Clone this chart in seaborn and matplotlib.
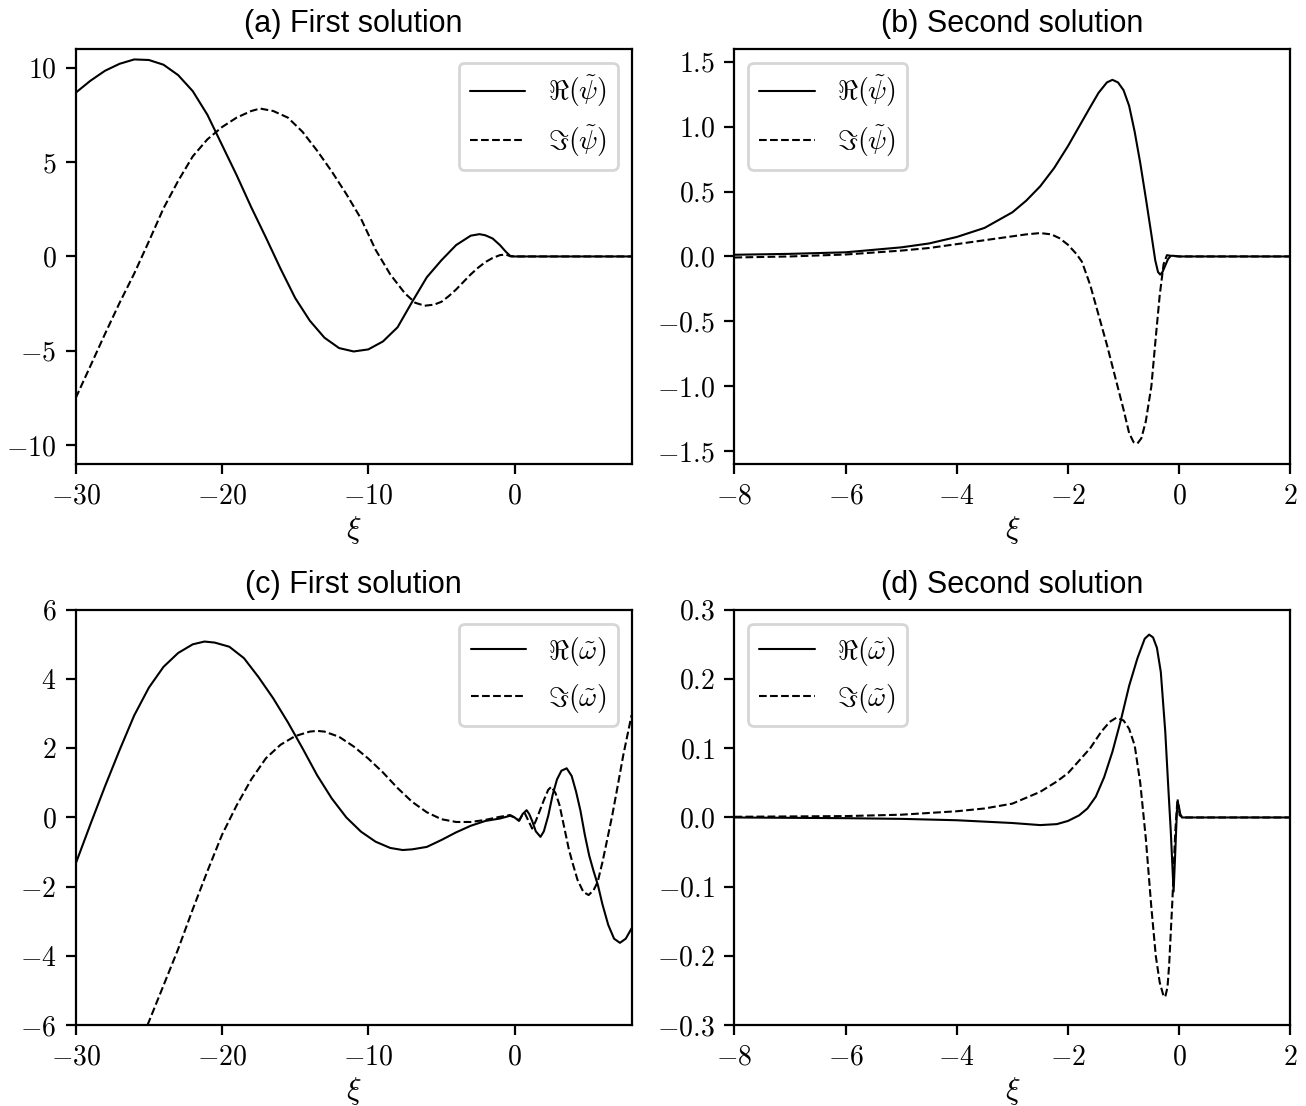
import numpy as np
import pandas as pd
import matplotlib
matplotlib.use("Agg")
import matplotlib.pyplot as plt
from matplotlib.ticker import FuncFormatter
import seaborn as sns

# ---------------- data ----------------
# (a) First solution, psi
a_re_x = [-30, -29, -28, -27, -26, -25, -24, -23, -22, -21, -20, -19, -18, -17, -16, -15, -14, -13,
          -12, -11, -10, -9, -8, -7, -6, -5, -4, -3, -2.4, -2, -1.5, -1, -0.6, -0.3, 0, 8]
a_re_y = [8.67, 9.3, 9.83, 10.2, 10.43, 10.4, 10.15, 9.6, 8.75, 7.5, 5.9, 4.3, 2.6, 1.0, -0.65, -2.2,
          -3.4, -4.3, -4.85, -5.03, -4.92, -4.5, -3.75, -2.4, -1.1, -0.2, 0.6, 1.1, 1.18, 1.12, 0.95,
          0.6, 0.25, 0.03, 0, 0]
a_im_x = [-30, -29, -28, -27, -26, -25, -24, -23, -22, -21, -20, -19, -18, -17.4, -16.5, -15.5, -14.5,
          -13.5, -12.5, -11.5, -10.5, -9.5, -8.5, -7.5, -6.8, -6.15, -5.5, -5, -4.5, -4, -3.5, -3,
          -2.5, -2, -1.5, -1, -0.6, -0.25, 8]
a_im_y = [-7.49, -5.8, -4.1, -2.45, -0.9, 0.8, 2.55, 4.0, 5.3, 6.2, 6.85, 7.35, 7.7, 7.83, 7.7, 7.35,
          6.6, 5.6, 4.5, 3.3, 2.0, 0.35, -0.95, -1.95, -2.45, -2.61, -2.55, -2.4, -2.1, -1.75, -1.35,
          -0.95, -0.6, -0.3, -0.08, 0.07, 0.1, 0, 0]

# (b) Second solution, psi
b_re_x = [-8, -7, -6, -5, -4.5, -4, -3.5, -3, -2.75, -2.5, -2.25, -2, -1.8, -1.6, -1.45, -1.3, -1.2,
          -1.1, -1.0, -0.9, -0.8, -0.7, -0.6, -0.5, -0.43, -0.38, -0.34, -0.3, -0.25, -0.2, -0.15,
          -0.1, 0, 2]
b_re_y = [0.013, 0.02, 0.032, 0.07, 0.1, 0.15, 0.22, 0.34, 0.43, 0.54, 0.68, 0.85, 1.0, 1.15, 1.26,
          1.34, 1.36, 1.34, 1.28, 1.16, 0.96, 0.72, 0.45, 0.17, -0.03, -0.12, -0.14, -0.12, -0.07,
          -0.02, 0.005, 0.005, 0, 0]
b_im_x = [-8, -7, -6, -5, -4.5, -4, -3.5, -3, -2.75, -2.5, -2.3, -2.15, -2.0, -1.85, -1.75, -1.6,
          -1.45, -1.3, -1.15, -1.0, -0.9, -0.82, -0.75, -0.68, -0.6, -0.5, -0.42, -0.35, -0.28,
          -0.22, -0.15, 0, 2]
b_im_y = [-0.008, 0.0, 0.015, 0.045, 0.065, 0.095, 0.125, 0.155, 0.17, 0.18, 0.17, 0.14, 0.09, 0.02,
          -0.04, -0.22, -0.45, -0.68, -0.93, -1.18, -1.36, -1.43, -1.44, -1.4, -1.27, -1.0, -0.62,
          -0.3, -0.06, 0.01, 0.005, 0, 0]

# (c) First solution, omega
c_re_x = [-30, -29, -28, -27, -26, -25, -24, -23, -22, -21.2, -20.5, -19.5, -18.5, -17.5, -16.5,
          -15.5, -14.5, -13.5, -12.5, -11.5, -10.5, -9.5, -8.5, -7.65, -7, -6, -5, -4, -3, -2, -1,
          -0.3, 0, 0.3, 0.55, 0.82, 1.0, 1.2, 1.45, 1.77, 2.0, 2.3, 2.6, 2.9, 3.2, 3.56, 3.9, 4.2,
          4.5, 4.8, 5.1, 5.4, 5.7, 6.0, 6.4, 6.8, 7.2, 7.6, 8.0]
c_re_y = [-1.33, -0.2, 0.9, 1.95, 2.95, 3.75, 4.35, 4.75, 5.0, 5.08, 5.05, 4.93, 4.6, 4.05, 3.44,
          2.75, 2.0, 1.22, 0.55, 0.0, -0.41, -0.7, -0.88, -0.94, -0.92, -0.85, -0.65, -0.43, -0.24,
          -0.1, -0.03, 0.05, 0.0, -0.1, 0.1, 0.21, 0.1, -0.1, -0.4, -0.56, -0.4, 0.05, 0.65, 1.1,
          1.35, 1.42, 1.2, 0.75, 0.2, -0.5, -1.1, -1.55, -1.96, -2.5, -3.1, -3.5, -3.62, -3.5, -3.2]
c_im_x = [-30, -27, -25.1, -24, -23, -22, -21, -20, -19, -18, -17, -16, -15, -14, -13.5, -13, -12,
          -11, -10, -9, -8, -7, -6, -5, -4, -3, -2, -1, -0.3, 0, 0.32, 0.5, 0.7, 0.95, 1.2, 1.45,
          1.69, 2.0, 2.3, 2.52, 2.8, 3.07, 3.4, 3.7, 3.94, 4.3, 4.7, 5.06, 5.4, 5.68, 6.0, 6.35,
          6.68, 7.0, 7.43, 8.0]
c_im_y = [-11.0, -8.0, -6.0, -4.85, -3.8, -2.65, -1.55, -0.5, 0.35, 1.1, 1.71, 2.1, 2.35, 2.48, 2.5,
          2.48, 2.33, 2.05, 1.7, 1.3, 0.85, 0.45, 0.15, -0.05, -0.13, -0.13, -0.07, 0.02, 0.07, 0.0,
          -0.08, 0.05, 0.12, -0.1, -0.32, -0.1, 0.16, 0.5, 0.8, 0.89, 0.7, 0.36, -0.3, -0.9, -1.28,
          -1.8, -2.15, -2.24, -2.1, -1.86, -1.3, -0.6, 0.07, 0.8, 1.8, 2.96]

# (d) Second solution, omega
d_re_x = [-8, -6, -5, -4, -3.5, -3, -2.5, -2.2, -2.0, -1.8, -1.65, -1.5, -1.35, -1.2, -1.05, -0.9,
          -0.75, -0.62, -0.54, -0.47, -0.4, -0.33, -0.25, -0.2, -0.15, -0.1, -0.07, -0.04, -0.01,
          0.02, 0.05, 2]
d_re_y = [0, -0.001, -0.002, -0.004, -0.006, -0.008, -0.011, -0.0096, -0.005, 0.003, 0.013, 0.03,
          0.058, 0.095, 0.14, 0.19, 0.23, 0.258, 0.264, 0.26, 0.245, 0.21, 0.124, 0.05, -0.021,
          -0.107, -0.05, 0.01, 0.018, 0.005, 0, 0]
d_im_x = [-8, -6, -5, -4, -3.5, -3, -2.5, -2.2, -2.0, -1.8, -1.6, -1.4, -1.25, -1.13, -1.0, -0.9,
          -0.8, -0.7, -0.6, -0.5, -0.42, -0.35, -0.28, -0.25, -0.21, -0.18, -0.12, -0.07, -0.03,
          0.01, 0.08, 2]
d_im_y = [0.001, 0.002, 0.004, 0.009, 0.013, 0.02, 0.037, 0.052, 0.064, 0.082, 0.1, 0.124, 0.138,
          0.144, 0.14, 0.128, 0.104, 0.05, -0.03, -0.13, -0.2, -0.238, -0.258, -0.259, -0.245,
          -0.213, -0.117, -0.021, 0.027, 0.003, 0, 0]

titles = ["(a) First solution", "(b) Second solution", "(c) First solution", "(d) Second solution"]
psi_labels = [r"$\Re(\tilde{\psi})$", r"$\Im(\tilde{\psi})$"]
omega_labels = [r"$\Re(\tilde{\omega})$", r"$\Im(\tilde{\omega})$"]

# ---------------- style ----------------
sns.set_style("ticks")
plt.rcParams["font.family"] = ["Liberation Sans", "DejaVu Sans"]
plt.rcParams["mathtext.fontset"] = "cm"
plt.rcParams["text.color"] = "black"
plt.rcParams["axes.labelcolor"] = "black"
plt.rcParams["axes.edgecolor"] = "black"
plt.rcParams["xtick.color"] = "black"
plt.rcParams["ytick.color"] = "black"
plt.rcParams["xtick.direction"] = "out"
plt.rcParams["ytick.direction"] = "out"

fig, axes = plt.subplots(2, 2, figsize=(6.53, 5.53), dpi=200)
fig.subplots_adjust(left=0.058, right=0.988, bottom=0.073, top=0.956, wspace=0.185, hspace=0.35)

def mfmt(v, pos, dec):
    s = f"{v:.{dec}f}"
    if s.startswith("-"):
        s = "-" + s[1:]
    return f"${s}$"

panels = [
    (axes[0, 0], a_re_x, a_re_y, a_im_x, a_im_y, psi_labels, (-30, 8), (-11, 11), "upper right", 0,
     [-10, -5, 0, 5, 10], [-30, -20, -10, 0]),
    (axes[0, 1], b_re_x, b_re_y, b_im_x, b_im_y, psi_labels, (-8, 2), (-1.6, 1.6), "upper left", 1,
     [-1.5, -1.0, -0.5, 0.0, 0.5, 1.0, 1.5], [-8, -6, -4, -2, 0, 2]),
    (axes[1, 0], c_re_x, c_re_y, c_im_x, c_im_y, omega_labels, (-30, 8), (-6, 6), "upper right", 0,
     [-6, -4, -2, 0, 2, 4, 6], [-30, -20, -10, 0]),
    (axes[1, 1], d_re_x, d_re_y, d_im_x, d_im_y, omega_labels, (-8, 2), (-0.3, 0.3), "upper left", 1,
     [-0.3, -0.2, -0.1, 0.0, 0.1, 0.2, 0.3], [-8, -6, -4, -2, 0, 2]),
]

for i, (ax, rx, ry, ix, iy, labs, xl, yl, loc, dec, yt, xt) in enumerate(panels):
    sns.lineplot(x=rx, y=ry, ax=ax, color="black", lw=0.75, sort=False, estimator=None, label=labs[0])
    sns.lineplot(x=ix, y=iy, ax=ax, color="black", lw=0.75, sort=False, estimator=None,
                 label=labs[1], linestyle="--")
    ax.set_xlim(*xl)
    ax.set_ylim(*yl)
    ax.set_xticks(xt)
    ax.set_yticks(yt)
    ax.xaxis.set_major_formatter(FuncFormatter(lambda v, p: mfmt(v, p, 0)))
    ax.yaxis.set_major_formatter(FuncFormatter(lambda v, p, d=dec: mfmt(v, p, d)))
    ax.tick_params(labelsize=10, length=3.5, width=0.8)
    for sp in ax.spines.values():
        sp.set_visible(True)
        sp.set_linewidth(0.8)
        sp.set_color("black")
    ax.set_title(titles[i], fontsize=11, color="black")
    ax.set_xlabel(r"$\xi$", fontsize=11, labelpad=1.5)
    ax.set_ylabel("")
    ax.legend(loc=loc, fontsize=10, frameon=True, fancybox=True, framealpha=0.8, edgecolor="0.8")

fig.savefig("out.png", dpi=200)
